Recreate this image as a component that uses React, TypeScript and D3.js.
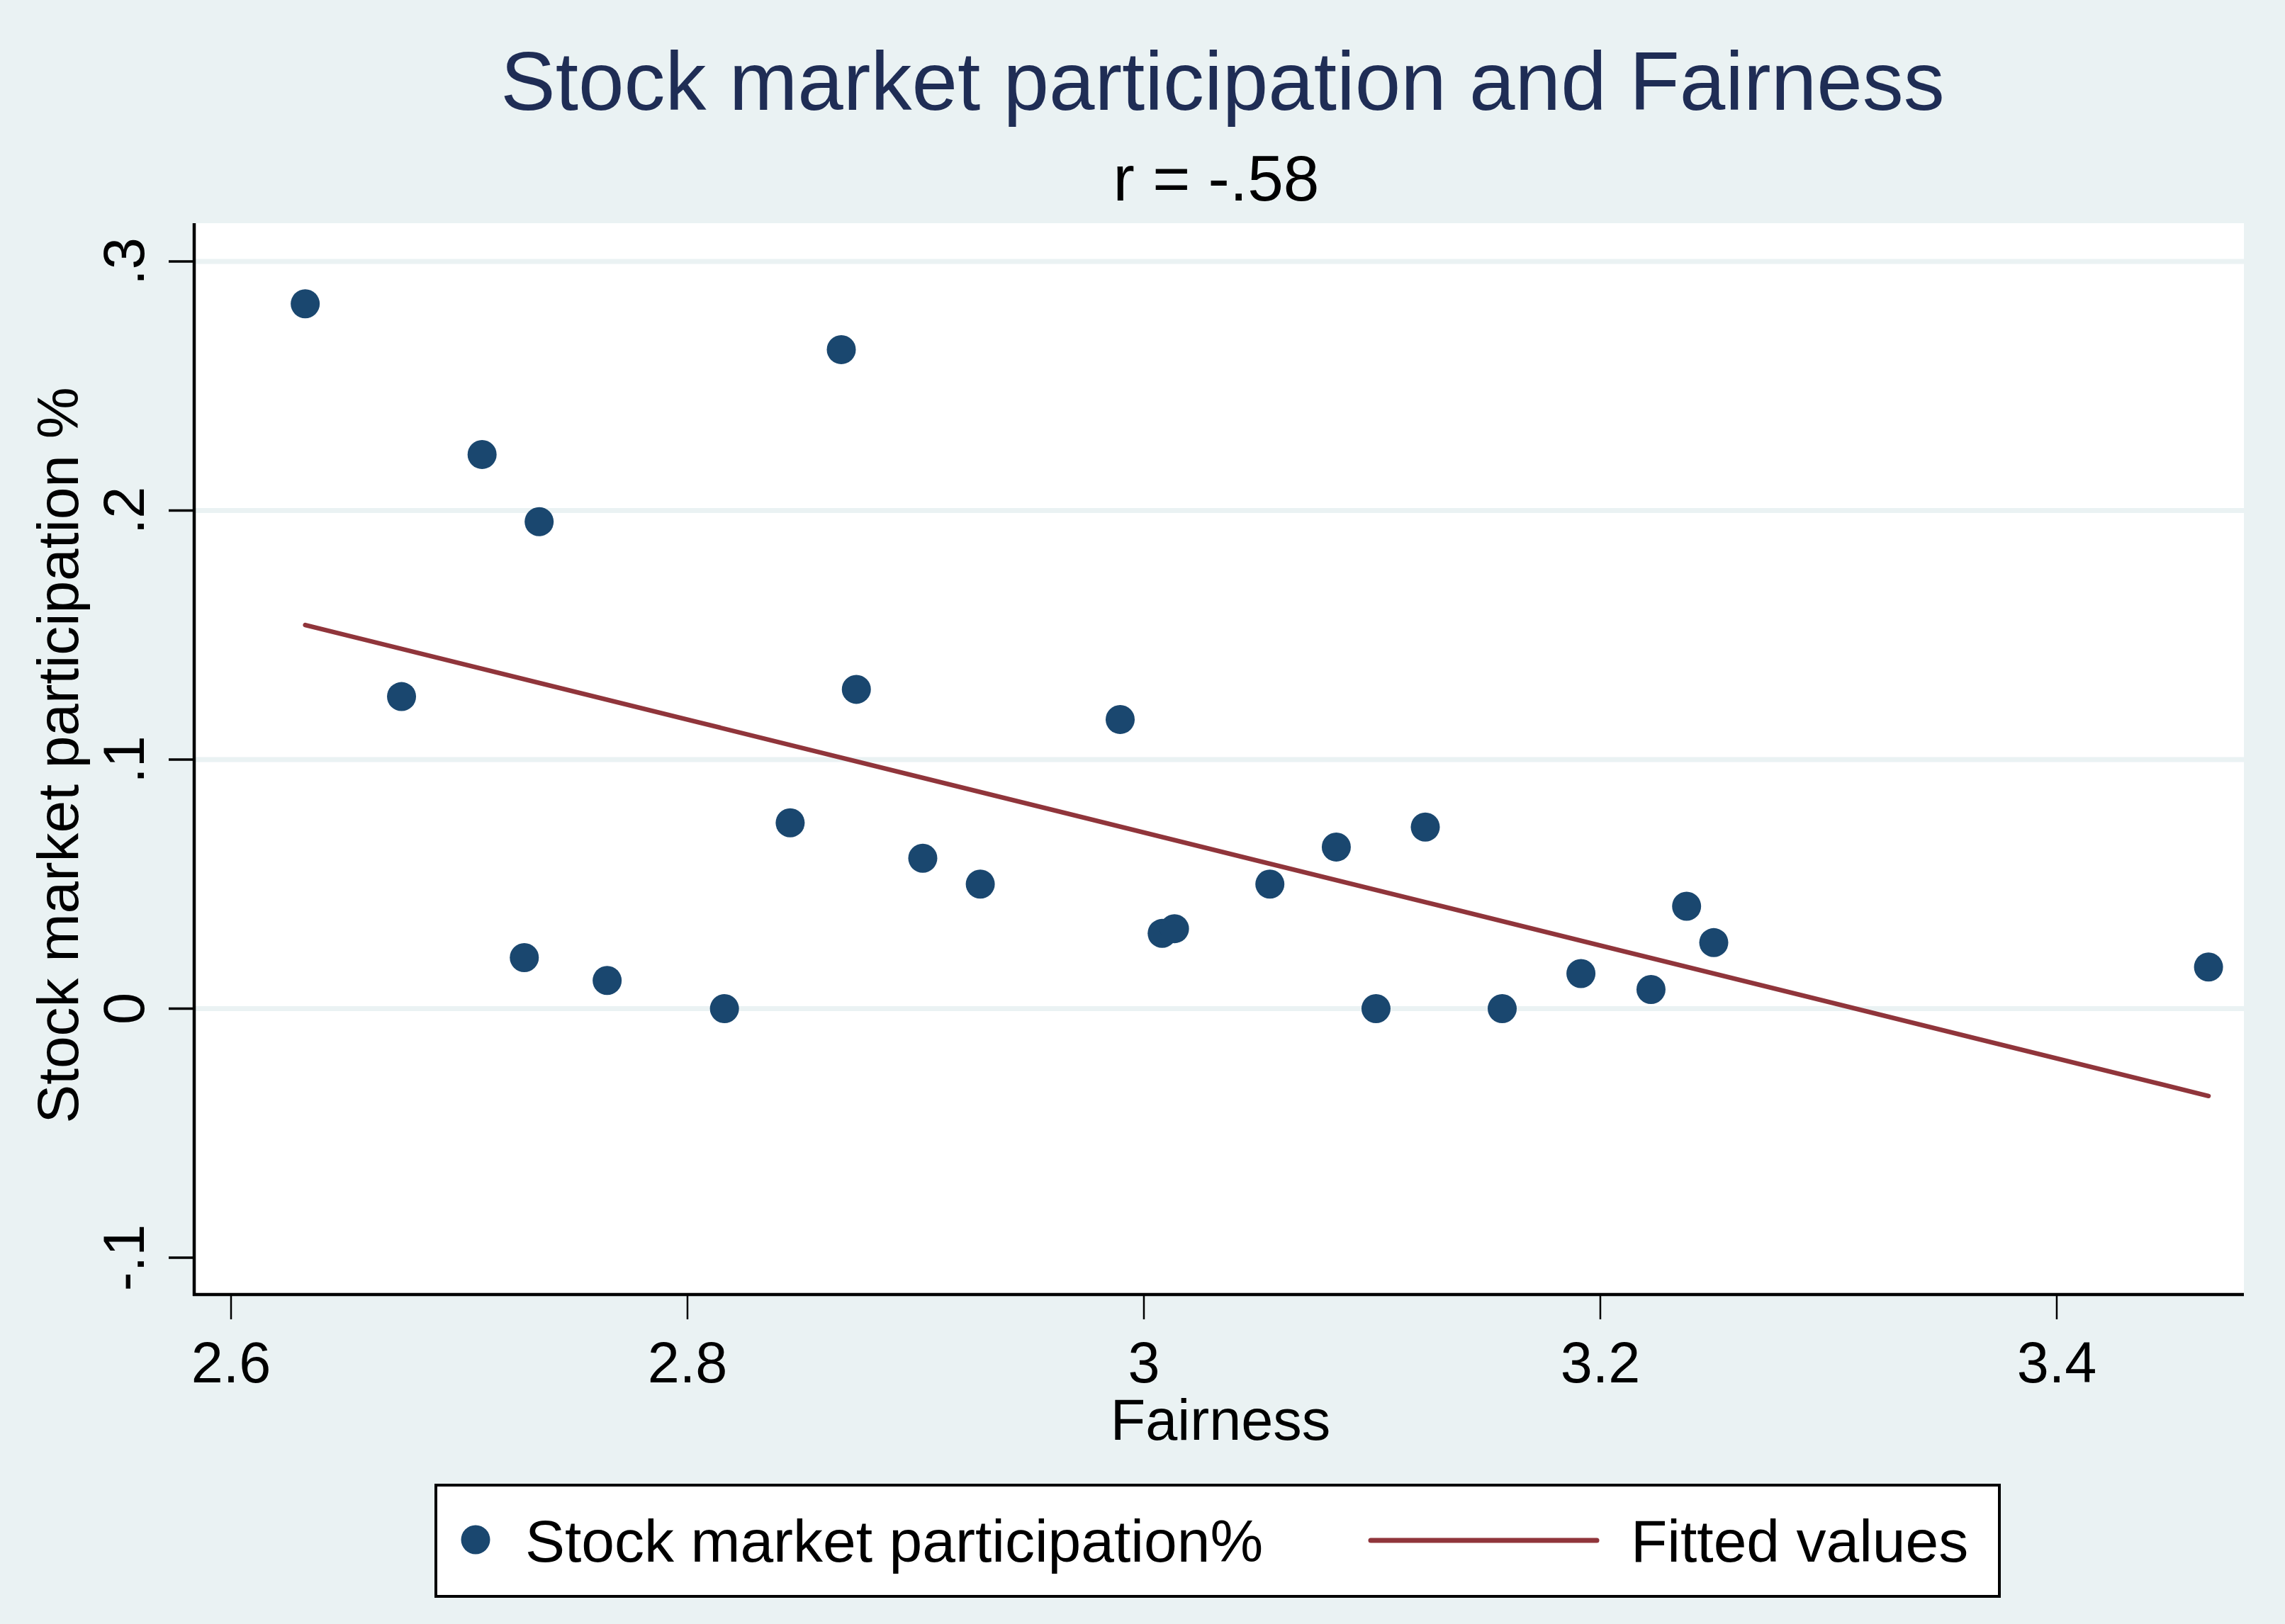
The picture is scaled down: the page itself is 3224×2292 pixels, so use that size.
import React from 'react';
import * as d3 from 'd3';

// Fairness score (x) and stock market participation share (y), one per country
const fairness = [
  2.6325, 2.8674, 2.71, 2.735, 2.6747, 2.874, 2.9896, 2.845, 2.9031, 2.9283,
  2.7285, 2.7648, 2.8162, 3.008, 3.0134, 3.0552, 3.0843, 3.1233, 3.1017, 3.157,
  3.1915, 3.2222, 3.2378, 3.2497, 3.4665,
];
const participation = [
  0.283, 0.2646, 0.2225, 0.1955, 0.1253, 0.1282, 0.1161, 0.0746, 0.0604, 0.05,
  0.0205, 0.0113, 0.0, 0.0302, 0.0321, 0.05, 0.0649, 0.0729, 0.0, 0.0,
  0.0141, 0.0077, 0.0411, 0.0265, 0.0167,
];

const xTicks = [2.6, 2.8, 3.0, 3.2, 3.4];
const xTickLabels = ['2.6', '2.8', '3', '3.2', '3.4'];
const yTicks = [-0.1, 0, 0.1, 0.2, 0.3];
const yTickLabels = ['-.1', '0', '.1', '.2', '.3'];
const yGridTicks = [0, 0.1, 0.2, 0.3];

const W = 3224;
const H = 2292;
const plot = { left: 274, right: 3166, top: 315, bottom: 1827 };

const BG = '#eaf2f3';
const NAVY = '#1a476f';
const MAROON = '#90353b';
const TITLE = '#1f2d55';
const FONT = '"Liberation Sans", Arial, Helvetica, sans-serif';

export default function App() {
  const x = d3.scaleLinear().domain([2.58385, 3.482]).range([plot.left, plot.right]);
  const y = d3.scaleLinear().domain([-0.11479, 0.31536]).range([plot.bottom, plot.top]);

  const points = fairness.map((f, i) => ({ x: f, y: participation[i] }));

  // OLS fit, drawn over the observed x range
  const mx = d3.mean(fairness) as number;
  const my = d3.mean(participation) as number;
  const sxy = d3.sum(points, (p) => (p.x - mx) * (p.y - my));
  const sxx = d3.sum(points, (p) => (p.x - mx) ** 2);
  const slope = sxy / sxx;
  const intercept = my - slope * mx;
  const [xMin, xMax] = d3.extent(fairness) as [number, number];
  const fitted = [xMin, xMax].map((v) => ({ x: v, y: intercept + slope * v }));
  const line = d3
    .line<{ x: number; y: number }>()
    .x((d) => x(d.x))
    .y((d) => y(d.y));

  const cx = (plot.left + plot.right) / 2;
  const cy = (plot.top + plot.bottom) / 2;

  return (
    <div style={{ position: 'absolute', left: 0, top: 0 }}>
      <svg width={W} height={H} style={{ display: 'block' }} fontFamily={FONT}>
        <rect x={0} y={0} width={W} height={H} fill={BG} />

        {/* titles */}
        <text x={cx + 5} y={155} textAnchor="middle" fontSize={116} fill={TITLE}>
          Stock market participation and Fairness
        </text>
        <text x={cx - 4} y={283} textAnchor="middle" fontSize={91} fill="#000">
          r = -.58
        </text>

        {/* plot region */}
        <rect
          x={plot.left}
          y={plot.top}
          width={plot.right - plot.left}
          height={plot.bottom - plot.top}
          fill="#fff"
        />
        {yGridTicks.map((t) => (
          <line
            key={`g${t}`}
            x1={plot.left}
            x2={plot.right}
            y1={y(t)}
            y2={y(t)}
            stroke={BG}
            strokeWidth={7}
          />
        ))}

        {/* fitted line */}
        <path d={line(fitted) as string} fill="none" stroke={MAROON} strokeWidth={6.5} strokeLinecap="round" />

        {/* scatter */}
        {points.map((p, i) => (
          <circle key={i} cx={x(p.x)} cy={y(p.y)} r={20.5} fill={NAVY} />
        ))}

        {/* axes */}
        <line x1={plot.left} x2={plot.left} y1={plot.top} y2={plot.bottom + 2} stroke="#000" strokeWidth={4.5} />
        <line x1={plot.left - 2} x2={plot.right} y1={plot.bottom} y2={plot.bottom} stroke="#000" strokeWidth={4.5} />

        {yTicks.map((t, i) => (
          <g key={`y${t}`}>
            <line x1={238} x2={plot.left} y1={y(t)} y2={y(t)} stroke="#000" strokeWidth={3.5} />
            <text
              transform={`translate(203,${y(t)}) rotate(-90)`}
              textAnchor="middle"
              fontSize={81}
              fill="#000"
            >
              {yTickLabels[i]}
            </text>
          </g>
        ))}
        {xTicks.map((t, i) => (
          <g key={`x${t}`}>
            <line x1={x(t)} x2={x(t)} y1={plot.bottom} y2={1862} stroke="#000" strokeWidth={2.5} />
            <text x={x(t)} y={1951} textAnchor="middle" fontSize={81} fill="#000">
              {xTickLabels[i]}
            </text>
          </g>
        ))}

        {/* axis titles */}
        <text x={cx + 2} y={2032} textAnchor="middle" fontSize={81} fill="#000">
          Fairness
        </text>
        <text transform={`translate(110,${cy - 5}) rotate(-90)`} textAnchor="middle" fontSize={82} fill="#000">
          Stock market participation %
        </text>

        {/* legend */}
        <rect x={615} y={2096} width={2206} height={157} fill="#fff" stroke="#000" strokeWidth={4} />
        <circle cx={671} cy={2173} r={20.5} fill={NAVY} />
        <text x={741} y={2204} fontSize={84} fill="#000">
          Stock market participation%
        </text>
        <line x1={1934} x2={2253} y1={2174} y2={2174} stroke={MAROON} strokeWidth={7} strokeLinecap="round" />
        <text x={2301} y={2204} fontSize={84} fill="#000">
          Fitted values
        </text>
      </svg>
    </div>
  );
}
